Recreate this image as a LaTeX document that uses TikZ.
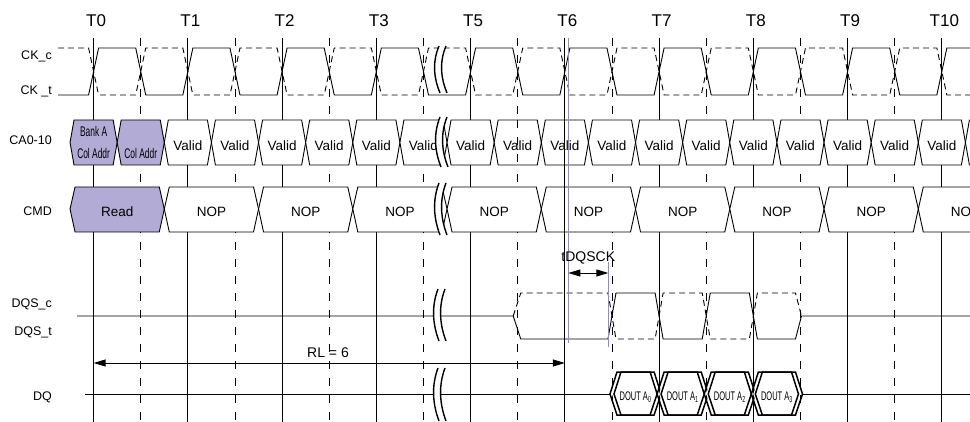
\documentclass[tikz,border=0pt]{standalone}
\usepackage{fontspec}
\setmainfont{Liberation Sans}
\newfontfamily\narrowfont[FakeStretch=0.6]{Liberation Sans}
\usetikzlibrary{arrows.meta}

\definecolor{busfill}{RGB}{177,171,214}
\definecolor{markblue}{RGB}{138,138,204}

% timing grid, in px
\def\tzero{93.6}
\def\tper{94.25}
\def\thalf{47.125}
\def\tqtr{23.5625}

\tikzset{
  wave/.style={line width=0.9pt},
  wavec/.style={wave, dash pattern=on 6pt off 4pt},
  tline/.style={line width=0.9pt},
  hline/.style={line width=0.9pt, dash pattern=on 8pt off 9pt},
  busbox/.style={line width=0.9pt, fill=white},
  doutbox/.style={line width=1.5pt},
  breakline/.style={line width=1.4pt},
  markline/.style={markblue, line width=1.6pt},
  dimarrow/.style={line width=0.9pt, {Triangle[length=12pt,width=7pt]}-{Triangle[length=12pt,width=7pt]}},
  ticklabel/.style={anchor=base, inner sep=0pt, font=\fontsize{17}{20}\selectfont},
  rowlabel/.style={anchor=base east, inner sep=0pt, font=\fontsize{12.5}{14}\selectfont},
  bustext/.style={anchor=base, inner sep=0pt, font=\fontsize{13.5}{16}\selectfont},
  dimtext/.style={anchor=base, inner sep=0pt, font=\fontsize{14}{16}\selectfont},
  narrowtext/.style={anchor=base, inner sep=0pt, font=\fontsize{14}{16}\narrowfont},
  douttext/.style={anchor=base, inner sep=0pt, font=\fontsize{12.5}{14}\narrowfont},
}

% double wavy break: x, top, bottom
\newcommand{\breakmark}[3]{%
  \fill[white] ({#1+3},#2) .. controls ({#1-4},{#2+0.35*(#3-#2)}) and ({#1-2},{#2+0.7*(#3-#2)}) .. ({#1+4},#3)
    -- ({#1+11},#3) .. controls ({#1+5},{#2+0.7*(#3-#2)}) and ({#1+3},{#2+0.35*(#3-#2)}) .. ({#1+10},#2) -- cycle;
  \foreach \o in {0,7}
    \draw[breakline] ({#1+\o+3},#2) .. controls ({#1+\o-4},{#2+0.35*(#3-#2)}) and ({#1+\o-2},{#2+0.7*(#3-#2)}) .. ({#1+\o+4},#3);
}

\begin{document}
\begin{tikzpicture}[x=1pt,y=-1pt]
\useasboundingbox (0,0) rectangle (970,422);
\clip (0,0) rectangle (970,422);

% clock edges
\foreach \k/\lbl in {0/T0,1/T1,2/T2,3/T3,4/T5,5/T6,6/T7,7/T8,8/T9,9/T10}{
  \node[ticklabel] (\lbl) at ({\tzero+\k*\tper+2.5},26.7) {\lbl};
  \draw[tline] ({\tzero+\k*\tper},38) -- ({\tzero+\k*\tper},422);
}
\foreach \k in {0,...,8}
  \draw[hline] ({\tzero+\k*\tper+\thalf},38) -- ({\tzero+\k*\tper+\thalf},422);

% signal names
\node[rowlabel] (ckc) at (52,60) {CK\_c};
\node[rowlabel] (ckt) at (52,94.5) {CK \_t};
\node[rowlabel] (ca) at (52,145) {CA0-10};
\node[rowlabel] (cmd) at (52,216) {CMD};
\node[rowlabel] (dqsc) at (52,308) {DQS\_c};
\node[rowlabel] (dqst) at (52,335) {DQS\_t};
\node[rowlabel] (dq) at (52,400) {DQ};

% CK_t / CK_c
\draw[wave] (58,95) \foreach \k in {0,...,9}{
  -- ({\tzero+\k*\tper-5},95) -- ({\tzero+\k*\tper+5},48)
  -- ({\tzero+\k*\tper+\thalf-5},48) -- ({\tzero+\k*\tper+\thalf+5},95) };
\draw[wavec] (58,48) \foreach \k in {0,...,9}{
  -- ({\tzero+\k*\tper-5},48) -- ({\tzero+\k*\tper+5},95)
  -- ({\tzero+\k*\tper+\thalf-5},95) -- ({\tzero+\k*\tper+\thalf+5},48) };

% CA bus
\foreach \k in {0,...,19}{
  \pgfmathsetmacro\cx{\tzero+\k*\thalf}
  \ifnum\k<2 \def\bfill{busfill}\else\def\bfill{white}\fi
  \draw[busbox, fill=\bfill] ({\cx-\tqtr},142.5) -- ({\cx-\tqtr+4},120) -- ({\cx+\tqtr-4},120)
    -- ({\cx+\tqtr},142.5) -- ({\cx+\tqtr-4},165) -- ({\cx-\tqtr+4},165) -- cycle;
}
\node[narrowtext] (banka) at (\tzero,137) {Bank A};
\node[narrowtext] (coladdr) at (\tzero,158.5) {Col Addr};
\node[narrowtext] (coladdrb) at ({\tzero+\thalf},158.5) {Col Addr};
\foreach \k in {2,...,18}
  \node[bustext] (valid\k) at ({\tzero+\k*\thalf},150.5) {Valid};

% CMD bus
\foreach \k in {0,...,10}{
  \pgfmathsetmacro\lx{\tzero+\k*\tper-\tqtr}
  \pgfmathsetmacro\rx{\lx+\tper}
  \ifnum\k=0 \def\bfill{busfill}\else\def\bfill{white}\fi
  \draw[busbox, fill=\bfill] (\lx,209) -- ({\lx+5},187) -- ({\rx-5},187)
    -- (\rx,209) -- ({\rx-5},232) -- ({\lx+5},232) -- cycle;
}
\node[bustext] (read) at ({\tzero+\tqtr},217) {Read};
\foreach \k in {1,...,10}
  \node[bustext] (nop\k) at ({\tzero+\k*\tper+\tqtr},217) {NOP};

% DQS_t / DQS_c
\pgfmathsetmacro\pre{\tzero+4*\tper+\thalf}
\pgfmathsetmacro\ta{\tzero+5*\tper+\thalf}
\pgfmathsetmacro\tb{\ta+\thalf}
\pgfmathsetmacro\tc{\ta+2*\thalf}
\pgfmathsetmacro\td{\ta+3*\thalf}
\pgfmathsetmacro\te{\ta+4*\thalf}
\draw[wave] (77,316) -- ({\pre-4.5},316) -- ({\pre+3},339) -- ({\ta-4},339) -- ({\ta+4},293)
  -- ({\tb-4},293) -- ({\tb+4},339) -- ({\tc-4},339) -- ({\tc+4},293) -- ({\td-4},293)
  -- ({\td+4},339) -- ({\te-5},339) -- ({\te+1},316) -- (975,316);
\draw[wavec] ({\pre-4.5},316) -- ({\pre+3},293) -- ({\ta-4},293) -- ({\ta+4},339)
  -- ({\tb-4},339) -- ({\tb+4},293) -- ({\tc-4},293) -- ({\tc+4},339) -- ({\td-4},339)
  -- ({\td+4},293) -- ({\te-5},293) -- ({\te+1},316);

% DQ
\draw[wave] (85,394) -- ({\ta-2},394);
\draw[wave] ({\te+2},394) -- (975,394);
\foreach \i in {0,...,3}{
  \pgfmathsetmacro\ax{\ta+\i*\thalf}
  \pgfmathsetmacro\bx{\ax+\thalf}
  \fill[white] (\ax,394) -- ({\ax+7},372) -- ({\bx-7},372) -- (\bx,394) -- ({\bx-7},415) -- ({\ax+7},415) -- cycle;
  \foreach \o in {-2,2}
    \draw[doutbox] ({\ax+\o},394) -- ({\ax+\o+7},372) -- ({\bx+\o-7},372)
      -- ({\bx+\o},394) -- ({\bx+\o-7},415) -- ({\ax+\o+7},415) -- cycle;
  \node[douttext] (dout\i) at ({(\ax+\bx)/2},400.5) {DOUT A\textsubscript{\i}};
}

% time breaks
\breakmark{436}{46}{93}
\breakmark{437}{117}{167}
\breakmark{436}{183}{235}
\breakmark{435}{289}{341}
\breakmark{435}{368}{421}

% lines drawn over the buses
\draw[tline] ({\tzero+5*\tper},38) -- ({\tzero+5*\tper},422);
\draw[hline] (\pre,120) -- (\pre,165);
\draw[markline] (568.3,38) -- (568.3,343);
\draw[markline] (608.3,262) -- (608.3,347);

% read latency and tDQSCK
\coordinate (rla) at (\tzero,363);
\coordinate (rlb) at ({\tzero+5*\tper},363);
\draw[dimarrow] (rla) -- (rlb);
\node[dimtext] (rl) at (328,357) {RL = 6};
\coordinate (dqa) at (568.3,273);
\coordinate (dqb) at (608.3,273);
\draw[dimarrow] (dqa) -- (dqb);
\node[dimtext] (tdqsck) at (588.3,261.7) {tDQSCK};
\end{tikzpicture}
\end{document}
